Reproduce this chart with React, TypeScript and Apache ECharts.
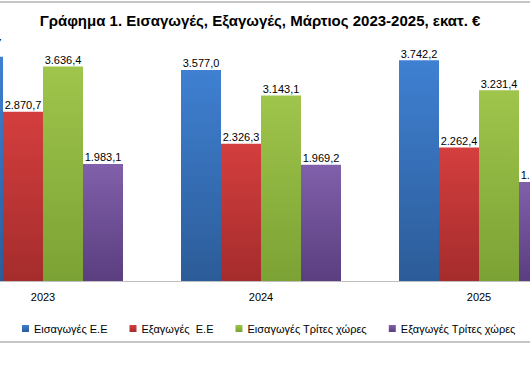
import React, { useEffect, useRef } from "react";
import * as echarts from "echarts";

const categories = ["2023", "2024", "2025"];
const seriesNames = ["Εισαγωγές Ε.Ε", "Εξαγωγές  Ε.Ε", "Εισαγωγές Τρίτες χώρες", "Εξαγωγές Τρίτες χώρες"];
const euImports = [3802.7, 3577.0, 3742.2];
const euExports = [2870.7, 2326.3, 2262.4];
const thirdImports = [3636.4, 3143.1, 3231.4];
const thirdExports = [1983.1, 1969.2, 1678.0];
const titleText = "Γράφημα 1. Εισαγωγές, Εξαγωγές, Μάρτιος 2023-2025, εκατ. €";

const gradients: [string, string][] = [
  ["#3f80d2", "#2c5c98"],
  ["#d43e3e", "#a52c2c"],
  ["#9fc54c", "#7ba234"],
  ["#8060aa", "#5b3e80"],
];

const FONT = "'Liberation Sans', Arial, sans-serif";
const OFF = 80; // inner chart offset (chart is wider than the visible frame)
const W = 700;

function fmt(v: number): string {
  const [i, d] = v.toFixed(1).split(".");
  return i.replace(/\B(?=(\d{3})+(?!\d))/g, ".") + "," + d;
}

export default function App() {
  const ref = useRef<HTMLDivElement>(null);
  useEffect(() => {
    if (!ref.current) return;
    const chart = echarts.init(ref.current, undefined, { renderer: "svg" });
    const data = [euImports, euExports, thirdImports, thirdExports];
    chart.setOption({
      animation: false,
      backgroundColor: "#ffffff",
      textStyle: { fontFamily: FONT },
      grid: { left: 14, width: 654, top: 45, bottom: 86 },
      xAxis: {
        type: "category",
        data: categories,
        axisLine: { lineStyle: { color: "#bfbfbf", width: 1 } },
        axisTick: { show: false },
        axisLabel: { color: "#000", fontSize: 11, margin: 10, fontFamily: FONT },
      },
      yAxis: { type: "value", min: 0, max: 4000, show: false, splitLine: { show: false } },
      legend: {
        left: OFF + 17,
        top: 318,
        icon: "rect",
        itemWidth: 7,
        itemHeight: 7,
        itemGap: 22,
        textStyle: { color: "#000", fontSize: 11, fontFamily: FONT },
        data: seriesNames,
      },
      graphic: [
        {
          type: "text",
          x: OFF + 260,
          y: 20,
          style: {
            text: titleText,
            fill: "#000",
            font: "bold 15px " + FONT,
            textAlign: "center",
            textVerticalAlign: "middle",
          },
        },
        { type: "line", shape: { x1: 0, y1: 2, x2: W, y2: 2 }, style: { stroke: "#c6c6c6", lineWidth: 2 } },
        { type: "line", shape: { x1: 0, y1: 342, x2: W, y2: 342 }, style: { stroke: "#c6c6c6", lineWidth: 2 } },
      ],
      series: seriesNames.map((name, i) => ({
        name,
        type: "bar",
        data: data[i].map((v, j) =>
          i === 0 && j === 0 ? { value: v, label: { offset: [0, -7] } } : v
        ),
        barWidth: 40,
        barGap: "0%",
        itemStyle: {
          color: {
            type: "linear",
            x: 0,
            y: 0,
            x2: 0,
            y2: 1,
            colorStops: [
              { offset: 0, color: gradients[i][0] },
              { offset: 1, color: gradients[i][1] },
            ],
          },
        },
        label: {
          show: true,
          position: "top",
          distance: 1,
          color: "#000",
          fontSize: 11,
          fontFamily: FONT,
          formatter: (p: any) => fmt(p.value),
        },
      })),
    });
    return () => chart.dispose();
  }, []);
  return (
    <div style={{ position: "fixed", left: 0, top: 0, width: 530, height: 367, overflow: "hidden", background: "#fff" }}>
      <div ref={ref} style={{ position: "absolute", left: -OFF, top: 0, width: W, height: 367 }} />
    </div>
  );
}
